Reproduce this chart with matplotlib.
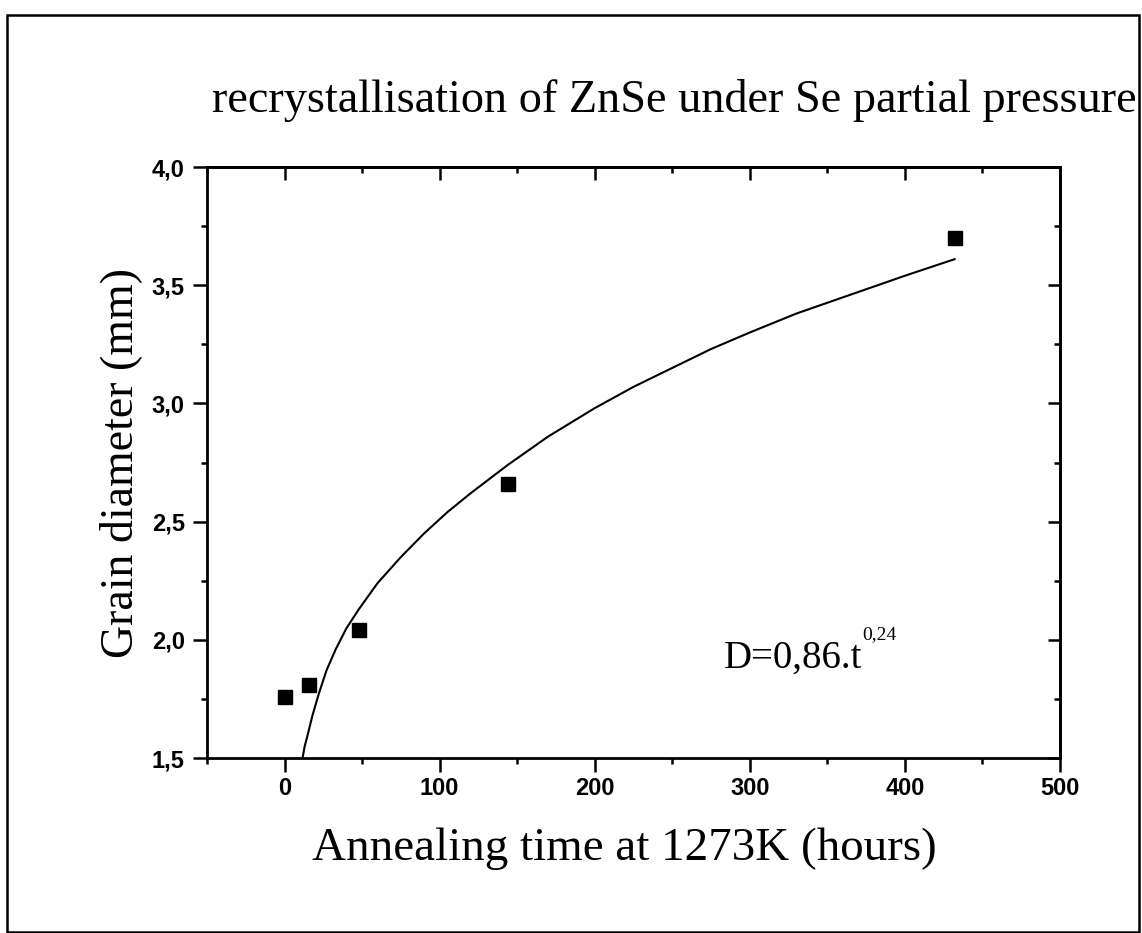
import matplotlib
matplotlib.use("Agg")
import matplotlib.pyplot as plt
from matplotlib.patches import Rectangle
from matplotlib.ticker import MultipleLocator, FuncFormatter

# --- data -------------------------------------------------------------------
time_h = [0, 16, 48, 144, 432]
diam_mm = [1.76, 1.81, 2.04, 2.66, 3.70]

# fitted curve, points
fit_t = [11.6, 13, 15, 18, 22, 27, 33, 40, 48, 60, 75, 90, 105, 120, 144,
         170, 200, 225, 250, 275, 300, 330, 365, 400, 432]
fit_d = [1.50, 1.55, 1.60, 1.68, 1.77, 1.87, 1.96, 2.05, 2.13, 2.24, 2.35, 2.45,
         2.54, 2.62, 2.74, 2.86, 2.98, 3.07, 3.15, 3.23, 3.30, 3.38, 3.46, 3.54, 3.61]

TITLE = "recrystallisation of ZnSe under Se partial pressure"
XLABEL = "Annealing time at 1273K (hours)"
YLABEL = "Grain diameter (mm)"
FIT_TXT, FIT_EXP = "D=0,86.t", "0,24"

SERIF = "Liberation Serif"
SANS = "Liberation Sans"
plt.rcParams.update({"font.family": SANS, "font.weight": "bold", "font.size": 17})

W, H = 1142, 933
fig = plt.figure(figsize=(W / 100, H / 100), dpi=100)
ax = fig.add_axes([207 / W, 1 - 758 / H, (1060 - 207) / W, (758 - 167) / H])

ax.plot(fit_t, fit_d, color="black", lw=1.5, zorder=2)
ax.plot(time_h, diam_mm, ls="none", marker="s", ms=10, color="black", zorder=3)

ax.set_xlim(-50, 500)
ax.set_ylim(1.5, 4.0)
ax.xaxis.set_major_locator(MultipleLocator(100))
ax.xaxis.set_minor_locator(MultipleLocator(50))
ax.yaxis.set_major_locator(MultipleLocator(0.5))
ax.yaxis.set_minor_locator(MultipleLocator(0.25))
ax.yaxis.set_major_formatter(FuncFormatter(lambda v, p: f"{v:.1f}".replace(".", ",")))

for s in ax.spines.values():
    s.set_linewidth(2)
ax.tick_params(which="both", direction="out", top=False, right=False, width=1.8,
               labelsize=17)
ax.tick_params(which="major", length=10)
ax.tick_params(which="minor", length=4.5)
ax.tick_params(axis="x", which="major", pad=3.5)
ax.tick_params(axis="y", which="major", pad=6)

# mirrored ticks pointing inwards on top and right
top = ax.secondary_xaxis("top")
top.xaxis.set_major_locator(MultipleLocator(100))
top.xaxis.set_minor_locator(MultipleLocator(50))
top.tick_params(which="both", direction="in", labeltop=False, width=1.8)
top.tick_params(which="major", length=9)
top.tick_params(which="minor", length=4.5)
top.spines["top"].set_linewidth(2)
right = ax.secondary_yaxis("right")
right.yaxis.set_major_locator(MultipleLocator(0.5))
right.yaxis.set_minor_locator(MultipleLocator(0.25))
right.tick_params(which="both", direction="in", labelright=False, width=1.8)
right.tick_params(which="major", length=9)
right.tick_params(which="minor", length=4.5)
right.spines["right"].set_linewidth(2)

ax.set_xlabel(XLABEL, fontfamily=SERIF, fontsize=33.8, fontweight="normal", va="center")
ax.xaxis.set_label_coords((624 - 207) / 853, (758 - 849) / 591)
ax.set_ylabel(YLABEL, fontfamily=SERIF, fontsize=33, fontweight="normal", va="center")
ax.yaxis.set_label_coords((121 - 207) / 853, 0.5)
fig.text(674 / W, 1 - 100 / H, TITLE, fontfamily=SERIF, fontsize=33.3,
         fontweight="normal", ha="center", va="center")

# fit equation, exponent as a smaller raised text right after the main part
fx, fy = 0.606, 0.1535
main = ax.text(fx, fy, FIT_TXT, transform=ax.transAxes, fontfamily=SERIF,
               fontsize=28, fontweight="normal", ha="left", va="baseline")
fig.canvas.draw()
bb = main.get_window_extent()
base_y = ax.transAxes.transform((fx, fy))[1]
ax.annotate(FIT_EXP, xy=(bb.x1, base_y), xycoords="figure pixels",
            xytext=(0, 20), textcoords="offset points", fontfamily=SERIF,
            fontsize=14, fontweight="normal", ha="left", va="baseline")

# outer frame around the whole figure
fig.patches.append(Rectangle((7 / W, 1 / H), (1139 - 7) / W, (918 - 1) / H,
                             transform=fig.transFigure, fill=False,
                             edgecolor="black", lw=1.8))

fig.savefig("out.png", dpi=100)
